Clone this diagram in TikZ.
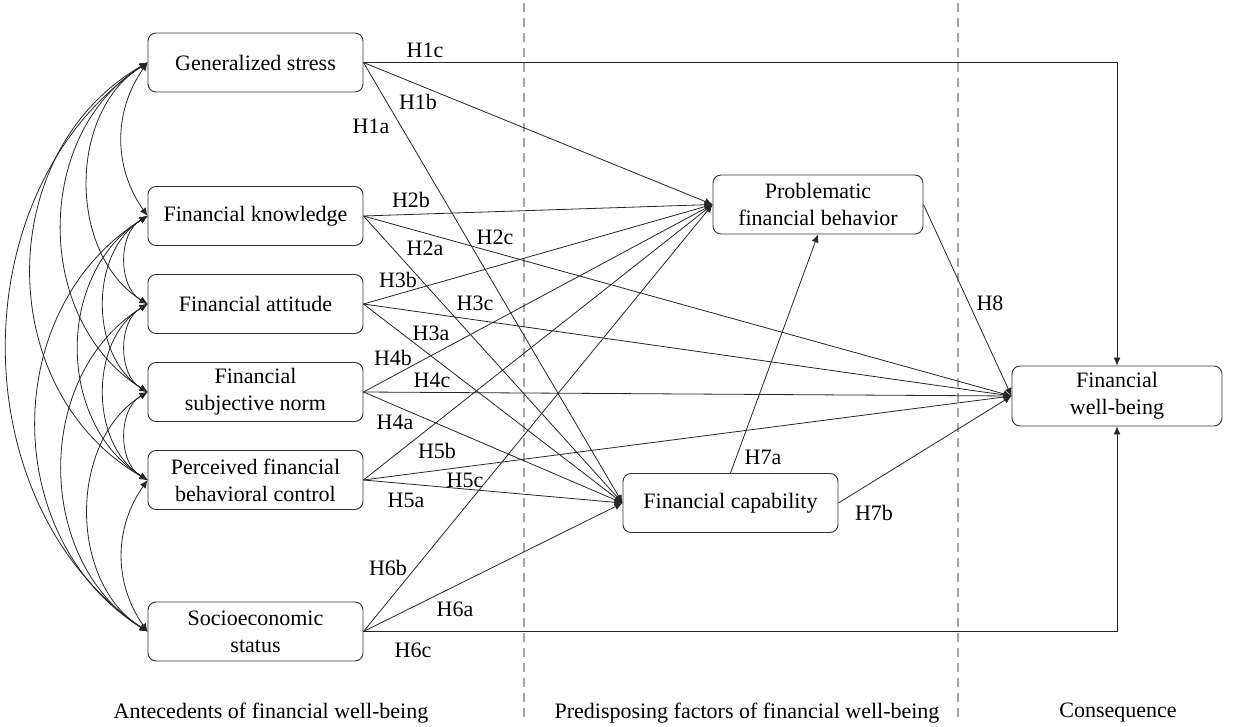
\documentclass[tikz,border=0pt]{standalone}
\usepackage{fontspec}
\setmainfont{Liberation Serif}
\usetikzlibrary{arrows.meta}
\begin{document}
\begin{tikzpicture}[x=1pt,y=-1pt,
  box/.style={draw=black!80, line width=0.9pt, rounded corners=8pt, align=center, inner sep=0pt,
    minimum width=215pt, minimum height=59pt, font=\fontsize{22}{27}\selectfont},
  lab/.style={font=\fontsize{22}{26}\selectfont, inner sep=0pt},
  conn/.style={draw=black!85, line width=0.8pt, -{Latex[length=8pt,width=7pt]}},
  corr/.style={draw=black!85, line width=0.8pt, {Latex[length=8pt,width=7pt]}-{Latex[length=8pt,width=7pt]}},
  divider/.style={draw=black!35, line width=1.2pt, dash pattern=on 9pt off 6pt}]
\useasboundingbox (0,0) rectangle (1235,727);

% dividers
\draw[divider] (524,3) -- (524,718);
\draw[divider] (958,3) -- (958,718);

% nodes
\node[box] (gs)   at (255.5,62.5) {Generalized stress};
\node[box] (fk)   at (255.5,216)  {Financial knowledge};
\node[box] (fa)   at (255.5,304)  {Financial attitude};
\node[box] (fsn)  at (255.5,392)  {Financial\\subjective norm};
\node[box] (pfbc) at (255.5,480)  {Perceived financial\\behavioral control};
\node[box] (ses)  at (255.5,631.5){Socioeconomic\\status};
\node[box, minimum width=210pt] (pfb) at (818,204.5) {Problematic\\financial behavior};
\node[box] (fc)   at (730.5,503)  {Financial capability};
\node[box, minimum width=210pt, minimum height=60pt] (fwb) at (1117,396) {Financial\\well-being};

% correlations
\draw[corr] (gs.west) to[bend right=35] (fk.west);
\draw[corr] (gs.west) to[bend right=58] (fa.west);
\draw[corr] (gs.west) to[bend right=58, looseness=1.05] (fsn.west);
\draw[corr] (gs.west) to[bend right=60, looseness=1.1] (pfbc.west);
\draw[corr] (gs.west) to[bend right=56, looseness=1.02] (ses.west);
\draw[corr] (fk.west) to[bend right=60] (fa.west);
\draw[corr] (fk.west) to[bend right=58] (fsn.west);
\draw[corr] (fk.west) to[bend right=58, looseness=1.05] (pfbc.west);
\draw[corr] (fk.west) to[bend right=58, looseness=1.08] (ses.west);
\draw[corr] (fa.west) to[bend right=60] (fsn.west);
\draw[corr] (fa.west) to[bend right=58] (pfbc.west);
\draw[corr] (fa.west) to[bend right=58, looseness=1.05] (ses.west);
\draw[corr] (fsn.west) to[bend right=60] (pfbc.west);
\draw[corr] (fsn.west) to[bend right=58] (ses.west);
\draw[corr] (pfbc.west) to[bend right=35] (ses.west);

% paths
\draw[conn] (gs.east) -| (fwb.north);
\draw[conn] (gs.east) -- (pfb.west);
\draw[conn] (gs.east) -- (fc.west);
\draw[conn] (fk.east) -- (pfb.west);
\draw[conn] (fk.east) -- (fwb.west);
\draw[conn] (fk.east) -- (fc.west);
\draw[conn] (fa.east) -- (pfb.west);
\draw[conn] (fa.east) -- (fwb.west);
\draw[conn] (fa.east) -- (fc.west);
\draw[conn] (fsn.east) -- (pfb.west);
\draw[conn] (fsn.east) -- (fwb.west);
\draw[conn] (fsn.east) -- (fc.west);
\draw[conn] (pfbc.east) -- (pfb.west);
\draw[conn] (pfbc.east) -- (fwb.west);
\draw[conn] (pfbc.east) -- (fc.west);
\draw[conn] (ses.east) -- (pfb.west);
\draw[conn] (ses.east) -- (fc.west);
\draw[conn] (ses.east) -| (fwb.south);
\draw[conn] (fc.north) -- (pfb.south);
\draw[conn] (fc.east) -- (fwb.west);
\draw[conn] (pfb.east) -- (fwb.west);

% labels
\node[lab] (l1c) at (425,50)  {H1c};
\node[lab] (l1b) at (418,102) {H1b};
\node[lab] (l1a) at (371,126) {H1a};
\node[lab] (l2b) at (411,200) {H2b};
\node[lab] (l2c) at (495,237) {H2c};
\node[lab] (l2a) at (425,248) {H2a};
\node[lab] (l3b) at (398,280) {H3b};
\node[lab] (l3c) at (475,303) {H3c};
\node[lab] (l3a) at (431,333) {H3a};
\node[lab] (l4b) at (393,358) {H4b};
\node[lab] (l4c) at (432,380) {H4c};
\node[lab] (l4a) at (395,422) {H4a};
\node[lab] (l5b) at (437,451) {H5b};
\node[lab] (l5c) at (465,480) {H5c};
\node[lab] (l5a) at (406,500) {H5a};
\node[lab] (l6b) at (388,568) {H6b};
\node[lab] (l6a) at (455,609) {H6a};
\node[lab] (l6c) at (413,650) {H6c};
\node[lab] (l7a) at (763,457) {H7a};
\node[lab] (l7b) at (874,513) {H7b};
\node[lab] (l8)  at (990,303) {H8};

% section captions
\node[lab] (c1) at (271,713)  {Antecedents of financial well-being};
\node[lab] (c2) at (747,713)  {Predisposing factors of financial well-being};
\node[lab] (c3) at (1118,713) {Consequence};
\end{tikzpicture}
\end{document}
